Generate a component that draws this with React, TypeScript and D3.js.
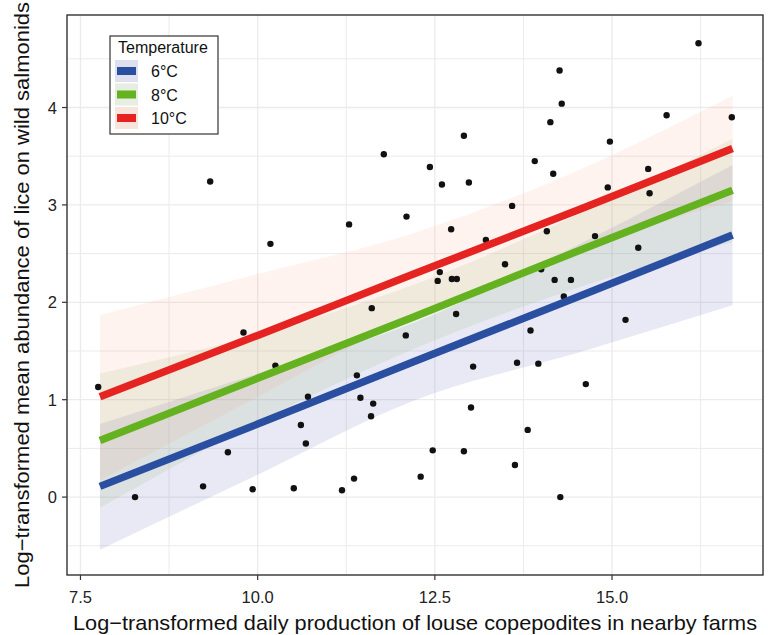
import React from "react";
import * as d3 from "d3";

// ---- data ----
const pointX = [7.75, 8.27, 9.23, 9.33, 9.58, 9.8, 9.93, 10.18, 10.25, 10.51, 10.61, 10.68, 10.71, 11.19, 11.29, 11.36, 11.4, 11.45, 11.61, 11.63, 11.6, 11.78, 12.1, 12.09, 12.3, 12.43, 12.47, 12.6, 12.73, 12.91, 12.98, 13.22, 13.59, 13.49, 14.08, 13.91, 14.13, 14.26, 14.29, 14.17, 14.97, 14.94, 14.76, 15.37, 15.51, 15.53, 15.77, 16.22, 16.69, 12.57, 12.54, 12.74, 12.81, 14.0, 14.19, 14.42, 14.32, 12.8, 13.85, 15.19, 13.04, 13.66, 13.96, 14.63, 13.01, 13.81, 12.91, 13.63, 14.27];
const pointY = [1.13, 0.0, 0.11, 3.24, 0.46, 1.69, 0.08, 2.6, 1.35, 0.09, 0.74, 0.55, 1.03, 0.07, 2.8, 0.19, 1.25, 1.02, 1.94, 0.96, 0.83, 3.52, 2.88, 1.66, 0.21, 3.39, 0.48, 3.21, 2.75, 3.71, 3.23, 2.64, 2.99, 2.39, 2.73, 3.45, 3.85, 4.38, 4.04, 3.32, 3.65, 3.18, 2.68, 2.56, 3.37, 3.12, 3.92, 4.66, 3.9, 2.31, 2.22, 2.24, 2.24, 2.34, 2.23, 2.23, 2.06, 1.88, 1.71, 1.82, 1.34, 1.38, 1.37, 1.16, 0.92, 0.69, 0.47, 0.33, 0.0];

const fitX = [7.775, 10.0, 12.2, 14.6, 16.7];
const blueFit = [0.11, 0.75, 1.39, 2.08, 2.69];
const blueLow = [-0.54, 0.23, 0.99, 1.5, 1.97];
const blueHigh = [0.75, 1.27, 1.79, 2.62, 3.41];
const greenFit = [0.58, 1.22, 1.85, 2.55, 3.15];
const greenLow = [-0.11, 0.77, 1.52, 2.17, 2.62];
const greenHigh = [1.27, 1.67, 2.18, 2.93, 3.68];
const redFit = [1.03, 1.66, 2.29, 2.97, 3.58];
const redLow = [0.17, 1.03, 1.87, 2.56, 3.04];
const redHigh = [1.87, 2.29, 2.71, 3.38, 4.12];

const xTicks = [7.5, 10.0, 12.5, 15.0];
const xMinor = [8.75, 11.25, 13.75, 16.25];
const yTicks = [0, 1, 2, 3, 4];
const yMinor = [-0.5, 0.5, 1.5, 2.5, 3.5, 4.5];
const legendLabels = ["6°C", "8°C", "10°C"];

const FONT = "'Liberation Sans', Arial, Helvetica, sans-serif";

export default function App() {
  const W = 768, H = 635;
  const L = 67, R = 763, T = 15, B = 575;
  const x = d3.scaleLinear().domain([7.31, 17.13]).range([L, R]);
  const y = d3.scaleLinear().domain([-0.8, 4.95]).range([B, T]);

  const series = [
    { fit: blueFit, low: blueLow, high: blueHigh, line: "#2b4fa0", fill: "#5058b4", keyBg: "#dfe0ee" },
    { fit: greenFit, low: greenLow, high: greenHigh, line: "#64b21f", fill: "#86b160", keyBg: "#e6ede1" },
    { fit: redFit, low: redLow, high: redHigh, line: "#e52421", fill: "#f4a582", keyBg: "#f7e4dd" },
  ];

  const area = (low: number[], high: number[]) =>
    d3
      .area<number>()
      .x((_, i) => x(fitX[i]))
      .y0((_, i) => y(low[i]))
      .y1((_, i) => y(high[i]))
      .curve(d3.curveMonotoneX)(fitX.map((_, i) => i)) || "";
  const line = (v: number[]) =>
    d3
      .line<number>()
      .x((_, i) => x(fitX[i]))
      .y((_, i) => y(v[i]))(fitX.map((_, i) => i)) || "";

  const gridColor = "#ebebeb";
  const legX = 110, legY = 36;

  return (
    <svg width={W} height={H} style={{ position: "absolute", left: 0, top: 0, background: "#fff" }} fontFamily={FONT}>
      <defs>
        <clipPath id="panel">
          <rect x={L} y={T} width={R - L} height={B - T} />
        </clipPath>
      </defs>
      <rect x={0} y={0} width={W} height={H} fill="#fff" />
      {/* grid */}
      <g>
        {xMinor.map((v) => (
          <line key={"xm" + v} x1={x(v)} x2={x(v)} y1={T} y2={B} stroke={gridColor} strokeWidth={1} />
        ))}
        {yMinor.map((v) => (
          <line key={"ym" + v} x1={L} x2={R} y1={y(v)} y2={y(v)} stroke={gridColor} strokeWidth={1} />
        ))}
        {xTicks.map((v) => (
          <line key={"xg" + v} x1={x(v)} x2={x(v)} y1={T} y2={B} stroke={gridColor} strokeWidth={1.3} />
        ))}
        {yTicks.map((v) => (
          <line key={"yg" + v} x1={L} x2={R} y1={y(v)} y2={y(v)} stroke={gridColor} strokeWidth={1.3} />
        ))}
      </g>
      {/* ribbons */}
      <g clipPath="url(#panel)">
        {series.map((s, i) => (
          <path key={"rib" + i} d={area(s.low, s.high)} fill={s.fill} fillOpacity={0.13} stroke="none" />
        ))}
      </g>
      {/* points */}
      <g>
        {pointX.map((px, i) => (
          <circle key={"p" + i} cx={x(px)} cy={y(pointY[i])} r={3.2} fill="#111" />
        ))}
      </g>
      {/* fit lines */}
      <g>
        {series.map((s, i) => (
          <path key={"ln" + i} d={line(s.fit)} fill="none" stroke={s.line} strokeWidth={7.5} />
        ))}
      </g>
      {/* panel border */}
      <rect x={L} y={T} width={R - L} height={B - T} fill="none" stroke="#333" strokeWidth={1.4} />
      {/* x axis */}
      <g>
        {xTicks.map((v) => (
          <g key={"xt" + v}>
            <line x1={x(v)} x2={x(v)} y1={B} y2={B + 5} stroke="#333" strokeWidth={1.2} />
            <text x={x(v)} y={B + 28} textAnchor="middle" fontSize={16.5} fill="#222">
              {v.toFixed(1)}
            </text>
          </g>
        ))}
        <text x={(L + R) / 2} y={630} textAnchor="middle" fontSize={21} fill="#111" textLength={684} lengthAdjust="spacingAndGlyphs">
          Log−transformed daily production of louse copepodites in nearby farms
        </text>
      </g>
      {/* y axis */}
      <g>
        {yTicks.map((v) => (
          <g key={"yt" + v}>
            <line x1={L - 5} x2={L} y1={y(v)} y2={y(v)} stroke="#333" strokeWidth={1.2} />
            <text x={L - 10} y={y(v) + 6} textAnchor="end" fontSize={16.5} fill="#222">
              {v}
            </text>
          </g>
        ))}
        <text
          transform={`translate(29, 295) rotate(-90)`}
          textAnchor="middle"
          fontSize={21}
          fill="#111"
          textLength={586}
          lengthAdjust="spacingAndGlyphs"
        >
          Log−transformed mean abundance of lice on wild salmonids
        </text>
      </g>
      {/* legend */}
      <g>
        <rect x={legX} y={legY} width={108} height={98} fill="#fff" stroke="#333" strokeWidth={1.2} />
        <text x={legX + 8} y={legY + 17} fontSize={16} fill="#111">
          Temperature
        </text>
        {series.map((s, i) => (
          <g key={"lg" + i}>
            <rect x={legX + 5} y={legY + 24 + i * 23.5} width={23} height={22} fill={s.keyBg} />
            <rect x={legX + 7} y={legY + 31 + i * 23.5} width={19} height={8} fill={s.line} />
            <text x={legX + 41} y={legY + 41 + i * 23.5} fontSize={16} fill="#111">
              {legendLabels[i]}
            </text>
          </g>
        ))}
      </g>
    </svg>
  );
}
